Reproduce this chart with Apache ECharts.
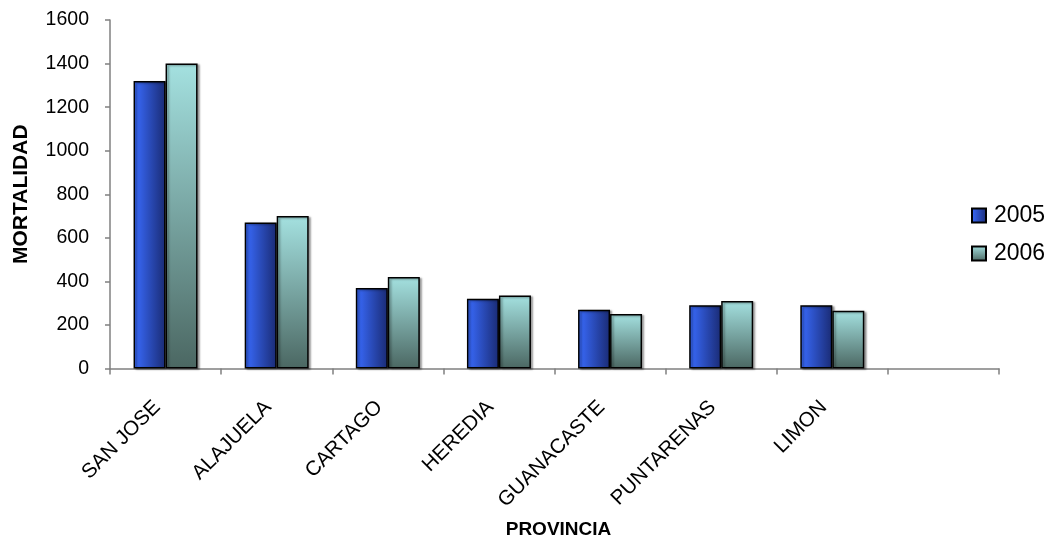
<!DOCTYPE html>
<html>
<head>
<meta charset="utf-8">
<script src="https://cdn.jsdelivr.net/npm/echarts@6/dist/echarts.min.js"></script>
<style>
  html, body { margin: 0; padding: 0; background: #fff; }
  #chart { width: 1049px; height: 537px; }
</style>
</head>
<body>
<div id="chart"></div>
<script>
// Provinces (the last slot is left empty on purpose)
const provincias = ['SAN JOSE', 'ALAJUELA', 'CARTAGO', 'HEREDIA', 'GUANACASTE', 'PUNTARENAS', 'LIMON', ''];
const serie2005 = [1320, 670, 370, 320, 270, 290, 290, null];
const serie2006 = [1400, 700, 420, 335, 250, 310, 265, null];
const ejeY = { min: 0, max: 1600, interval: 200 };

const FONT = '"Liberation Sans", Arial, sans-serif';

const azul = new echarts.graphic.LinearGradient(0, 0, 1, 0, [
  { offset: 0, color: '#3a6cff' },
  { offset: 1, color: '#1a2b74' }
]);
const turquesa = new echarts.graphic.LinearGradient(0, 0, 0, 1, [
  { offset: 0, color: '#a4e1e0' },
  { offset: 1, color: '#4b6762' }
]);

const barStyle = (fill) => ({
  color: fill,
  borderColor: '#000',
  borderWidth: 1.5,
  shadowColor: 'rgba(0,0,0,0.35)',
  shadowBlur: 2,
  shadowOffsetX: 2,
  shadowOffsetY: 1
});

const chart = echarts.init(document.getElementById('chart'));
chart.setOption({
  backgroundColor: '#fff',
  animation: false,
  grid: { left: 110, right: 50, top: 20, bottom: 168.5, containLabel: false, outerBoundsMode: 'none' },
  legend: {
    orient: 'vertical',
    left: 971,
    top: 204,
    padding: 0,
    itemWidth: 14,
    itemHeight: 14,
    itemGap: 15,
    icon: 'rect',
    textStyle: { fontFamily: FONT, fontSize: 23, color: '#000', padding: [0, 0, 0, 3] },
    data: ['2005', '2006']
  },
  xAxis: {
    type: 'category',
    data: provincias,
    name: 'PROVINCIA',
    nameLocation: 'middle',
    nameGap: 152,
    nameTextStyle: { fontFamily: FONT, fontSize: 19, fontWeight: 'bold', color: '#000', padding: [0, 0, 0, 8] },
    axisLine: { lineStyle: { color: '#808080', width: 1.5 } },
    axisTick: { show: true, alignWithLabel: false, length: 6, lineStyle: { color: '#808080', width: 1.5 } },
    axisLabel: {
      rotate: 45,
      interval: 0,
      margin: 27,
      padding: [0, 12, 0, 0],
      fontFamily: FONT,
      fontSize: 20.5,
      color: '#000'
    }
  },
  yAxis: {
    type: 'value',
    min: ejeY.min,
    max: ejeY.max,
    interval: ejeY.interval,
    name: 'MORTALIDAD',
    nameLocation: 'middle',
    nameGap: 78,
    nameTextStyle: { fontFamily: FONT, fontSize: 21, fontWeight: 'bold', color: '#000' },
    splitLine: { show: false },
    axisLine: { show: true, lineStyle: { color: '#808080', width: 1.5 } },
    axisTick: { show: true, length: 5, lineStyle: { color: '#808080', width: 1.5 } },
    axisLabel: {
      margin: 21,
      fontFamily: FONT,
      fontSize: 19.5,
      color: '#000',
      formatter: (v) => String(v)
    }
  },
  series: [
    {
      name: '2005',
      type: 'bar',
      data: serie2005,
      barWidth: 32,
      barGap: '0%',
      itemStyle: barStyle(azul)
    },
    {
      name: '2006',
      type: 'bar',
      data: serie2006,
      barWidth: 32,
      itemStyle: barStyle(turquesa)
    }
  ]
});
</script>
</body>
</html>
